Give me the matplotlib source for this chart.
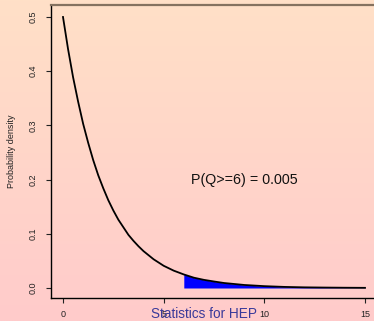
import numpy as np
import matplotlib
matplotlib.use("Agg")
import matplotlib.pyplot as plt

# Curve values (chi-square density, 2 dof)
q_values = [0.0, 0.25, 0.5, 0.75, 1.0, 1.25, 1.5, 1.75, 2.0, 2.25, 2.5, 2.75, 3.0,
            3.25, 3.5, 3.75, 4.0, 4.5, 5.0, 5.5, 6.0, 6.5, 7.0, 7.5, 8.0, 9.0, 10.0, 11.0,
            12.0, 13.0, 14.0, 15.0]
density = [0.500, 0.441, 0.389, 0.344, 0.303, 0.268, 0.236, 0.208, 0.184, 0.162,
           0.143, 0.126, 0.112, 0.098, 0.087, 0.077, 0.068, 0.053, 0.041, 0.032, 0.025, 0.019,
           0.015, 0.012, 0.0092, 0.0056, 0.0034, 0.0020, 0.0012, 0.0008, 0.0005,
           0.0003]
q_cut = 6.0
x_ticks = [0, 5, 10, 15]
y_ticks = [0.0, 0.1, 0.2, 0.3, 0.4, 0.5]
annotation = "P(Q>=6) = 0.005"
footer = "Statistics for HEP"

plt.rcParams['font.family'] = ['Liberation Sans', 'DejaVu Sans']

W, H = 374, 321
fig = plt.figure(figsize=(W / 100, H / 100), dpi=100)

# background gradient
bg = fig.add_axes([0, 0, 1, 1])
top = np.array([255, 224, 199]) / 255
bot = np.array([255, 203, 203]) / 255
t = np.linspace(0, 1, 256)[:, None]
grad = top * (1 - t) + bot * t
bg.imshow(grad[:, None, :].repeat(2, axis=1), aspect='auto', extent=[0, 1, 0, 1])
bg.set_axis_off()

left_px, right_px, top_px, bot_px = 51, 374, 5, 298
ax = fig.add_axes([left_px / W, (H - bot_px) / H, (right_px - left_px) / W, (bot_px - top_px) / H])
ax.set_facecolor('none')

x0_px, x15_px = 63, 365
ppu = (x15_px - x0_px) / 15
ax.set_xlim(-(x0_px - left_px) / ppu, 15 + (right_px - x15_px) / ppu)
y0_px, y5_px = 288, 17
ppy = (y0_px - y5_px) / 0.5
ax.set_ylim(-(bot_px - y0_px) / ppy, 0.5 + (y5_px - top_px) / ppy)

q = np.array(q_values)
d = np.array(density)
mask = q >= q_cut
ax.fill_between(q[mask], 0, d[mask], color='#0000ff', linewidth=0, zorder=2)
ax.plot(q, d, color='black', linewidth=1.3, zorder=3)

ax.text(6.35, 0.199, annotation, fontsize=10.3, color='#111111', va='center', ha='left')

ax.spines['right'].set_visible(False)
for s in ['left', 'bottom']:
    ax.spines[s].set_linewidth(1.0)
ax.spines['top'].set_color('#857260')
ax.spines['top'].set_linewidth(1.6)

ax.set_xticks(x_ticks)
ax.set_xticklabels([str(v) for v in x_ticks])
ax.set_yticks(y_ticks)
ax.set_yticklabels([f"{v:.1f}" for v in y_ticks], rotation=90, va='center')
ax.tick_params(axis='both', labelsize=6.5, length=3.6, width=0.8, colors='#222222')
ax.tick_params(axis='x', pad=5)
ax.tick_params(axis='y', pad=6)
ax.set_ylabel("Probability density", fontsize=6.5, labelpad=9, color='#222222')

fig.text(204 / W, 1 - 314 / H, footer, color='#3a3a9a', fontsize=9.8, ha='center', va='center')

fig.savefig("out.png", dpi=100)
